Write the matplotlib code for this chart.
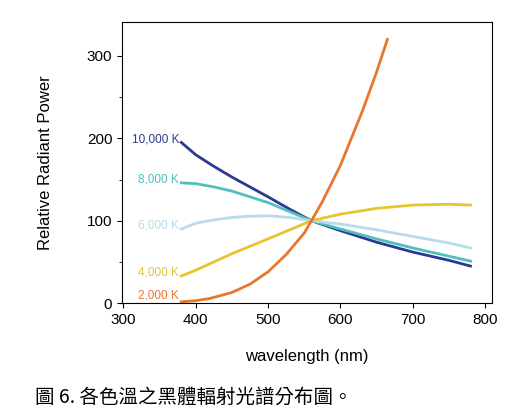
import matplotlib
matplotlib.use("Agg")
import matplotlib.pyplot as plt
plt.rcParams['font.family'] = ['Liberation Sans', 'DejaVu Sans']

wl_2000 = [380, 400, 420, 450, 475, 500, 525, 550, 560, 575, 600, 630, 650, 665]
v_2000 = [1.6, 3, 5.8, 13, 23, 38, 59, 85, 100, 123, 167, 232, 280, 320]
wl = [380, 400, 425, 450, 475, 500, 530, 560, 600, 650, 700, 750, 780]
v_4000 = [33, 40, 50, 60, 69, 78, 89, 100, 108, 115, 119, 120, 119]
v_6000 = [90, 97, 101, 104, 105.5, 106, 104, 100, 96, 89, 81, 73, 67]
v_8000 = [146, 145, 141, 136, 129, 122, 111, 100, 90, 78, 67, 57, 51]
v_10000 = [195, 180, 166, 153, 141, 129, 114, 100, 88, 74, 62, 52, 45]
labels = ["10,000 K", "8,000 K", "6,000 K", "4,000 K", "2,000 K"]
colors = ["#2b3990", "#4fbfbf", "#b7dce8", "#e6c52e", "#e8772e"]

fig = plt.figure(figsize=(5.17, 4.17), dpi=100)
ax = fig.add_axes([0.236, 0.273, 0.716, 0.674])
series = [(wl, v_10000), (wl, v_8000), (wl, v_6000), (wl, v_4000), (wl_2000, v_2000)]
for (x, y), lab, c in zip(series, labels, colors):
    ax.plot(x, y, color=c, lw=2)
    ax.text(x[0] - 3, y[0] + (4 if lab != "2,000 K" else 8), lab, color=c,
            fontsize=8.5, ha='right', va='center')
ax.set_xlim(298, 810)
ax.set_ylim(0, 341)
ax.set_xticks([300, 400, 500, 600, 700, 800])
ax.set_yticks([0, 100, 200, 300])
ax.set_yticks([50, 150, 250], minor=True)
ax.tick_params(labelsize=11)
ax.set_xlabel("wavelength (nm)", fontsize=12, labelpad=16)
ax.set_ylabel("Relative Radiant Power", fontsize=12, labelpad=24)
fig.text(0.068, 0.035, "圖 6. 各色溫之黑體輻射光譜分布圖。", ha='left', fontsize=14,
         family=['Noto Sans CJK TC', 'DejaVu Sans'])
fig.savefig("out.png", dpi=100)
